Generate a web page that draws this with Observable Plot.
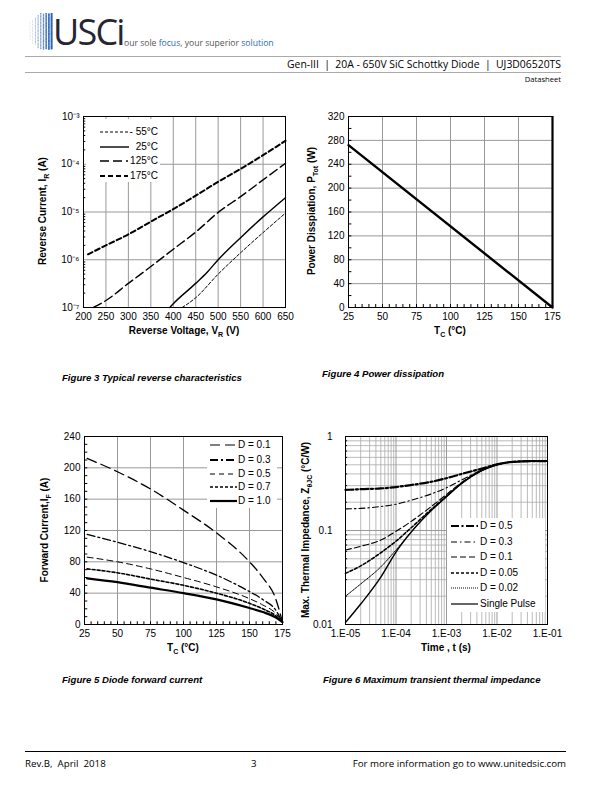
<!DOCTYPE html>
<html><head><meta charset="utf-8">
<script src="https://cdn.jsdelivr.net/npm/d3@7"></script>
<script src="https://cdn.jsdelivr.net/npm/@observablehq/plot@0.6"></script>
<style>
body{margin:0;background:#fff;}
#page{position:relative;width:612px;height:792px;overflow:hidden;font-family:"Liberation Sans",Arial,sans-serif;color:#000;}
.abs{position:absolute;white-space:nowrap;line-height:1;}
.c{transform:translate(-50%,-50%);}
.rot{transform:translate(-50%,-50%) rotate(-90deg);}
.ax{font-weight:bold;font-size:10px;}
.cap{font-weight:bold;font-style:italic;font-size:9.6px;}
.sub{font-size:7px;position:relative;top:2.5px;}
.leg{position:absolute;background:#fff;}
.legrow{position:absolute;font-size:10px;line-height:1;white-space:nowrap;}
.hdr{font-family:"Open Sans","Noto Sans",sans-serif;}
</style></head><body><div id="page"></div>
<script>
// ---------------- DATA ----------------
// Figure 3: reverse current vs reverse voltage
const revTicksV = [200,250,300,350,400,450,500,550,600,650];
const revTicksI = [1e-7,1e-6,1e-5,1e-4,1e-3];
const revV175 = [210,250,300,350,400,450,500,550,600,650];
const revI175 = [1.3e-6,2.0e-6,3.4e-6,6.3e-6,1.15e-5,2.2e-5,4.3e-5,8.0e-5,1.55e-4,3.1e-4];
const revV125 = [222,250,300,350,400,450,500,550,600,650];
const revI125 = [1e-7,1.4e-7,3.2e-7,7.2e-7,1.66e-6,3.8e-6,9.8e-6,2.1e-5,4.7e-5,1.05e-4];
const revV25 = [392,400,450,475,500,550,600,650];
const revI25 = [1e-7,1.2e-7,3.2e-7,5.4e-7,1.0e-6,2.9e-6,7.9e-6,2.0e-5];
const revVm55 = [420,450,500,550,600,650];
const revIm55 = [1e-7,1.6e-7,5.0e-7,1.4e-6,3.7e-6,9.5e-6];
const revLegend = ["- 55°C","25°C","125°C","175°C"];

// Figure 4: power dissipation
const powTicksT = [25,50,75,100,125,150,175];
const powTicksP = [0,40,80,120,160,200,240,280,320];
const powT = [25,175];
const powP = [272,0];

// Figure 5: diode forward current
const fwdTicksT = [25,50,75,100,125,150,175];
const fwdTicksI = [0,40,80,120,160,200,240];
const fwdT = [27,50,75,100,125,150,160,170,175];
const fwdD01 = [212,195,173,146,117,80,60,32,3];
const fwdD03 = [115,105,93,79,63,42,32,18,3];
const fwdD05 = [86,80,71,60,48,33,25,14,3];
const fwdD07 = [71,66,58,50,40,27,20,11,3];
const fwdD10 = [59,54,47,40,32,21,16,9,3];
const fwdLegend = ["D = 0.1","D = 0.3","D = 0.5","D = 0.7","D = 1.0"];

// Figure 6: transient thermal impedance
const zthTicksT = [1e-5,1e-4,1e-3,1e-2,1e-1];
const zthTicksZ = [0.01,0.1,1];
const zthT = [1e-5,2e-5,5e-5,1e-4,2e-4,5e-4,1e-3,2e-3,5e-3,1e-2,2e-2,5e-2,1e-1];
const zthSingle = [0.0105,0.0165,0.032,0.059,0.096,0.163,0.229,0.317,0.433,0.50,0.535,0.545,0.545];
const zthD002 = [0.02,0.027,0.041,0.062,0.097,0.164,0.23,0.318,0.434,0.5,0.536,0.545,0.545];
const zthD005 = [0.035,0.042,0.058,0.077,0.107,0.168,0.232,0.32,0.436,0.502,0.537,0.546,0.546];
const zthD01 = [0.062,0.068,0.079,0.098,0.125,0.18,0.242,0.325,0.44,0.505,0.538,0.547,0.547];
const zthD03 = [0.17,0.172,0.18,0.19,0.21,0.245,0.285,0.345,0.44,0.5,0.535,0.545,0.545];
const zthD05 = [0.27,0.275,0.28,0.29,0.305,0.33,0.36,0.40,0.455,0.505,0.538,0.547,0.547];
const zthLegend = ["D = 0.5","D = 0.3","D = 0.1","D = 0.05","D = 0.02","Single Pulse"];

// ---------------- HELPERS ----------------
const page = document.getElementById("page");
const pts = (xs, ys) => xs.map((x, i) => ({x, y: ys[i]}));
function txt(html, left, top, cls, style){
  const d = document.createElement("div");
  d.className = "abs " + (cls||"");
  d.innerHTML = html;
  if (left != null) d.style.left = left + "px";
  d.style.top = top + "px";
  if (style) d.style.cssText += style;
  page.appendChild(d); return d;
}
function put(svg, left, top){
  const w = document.createElement("div");
  w.style.position = "absolute"; w.style.left = left + "px"; w.style.top = top + "px";
  w.appendChild(svg); page.appendChild(w);
}
const baseStyle = {fontFamily:'"Liberation Sans", Arial, sans-serif', fontSize:"10px", background:"transparent", overflow:"visible", color:"#000"};
const logMinor = (lo, hi) => { const out=[]; for (let e=lo; e<hi; e++) for (let k=2;k<=9;k++) out.push(k*Math.pow(10,e)); return out; };
const sup = {"-":"⁻","0":"⁰","1":"¹","2":"²","3":"³","4":"⁴","5":"⁵","6":"⁶","7":"⁷","8":"⁸","9":"⁹"};
const pow10 = d => "10" + String(Math.round(Math.log10(d))).split("").map(c=>sup[c]).join("");

function legend(left, top, w, h, rows, items){
  const box = document.createElement("div");
  box.className = "leg";
  box.style.left = left+"px"; box.style.top = top+"px"; box.style.width = w+"px"; box.style.height = h+"px";
  page.appendChild(box);
  items.forEach((it, i) => {
    const r = rows[i];
    const s = document.createElementNS("http://www.w3.org/2000/svg","svg");
    s.setAttribute("width", it.x2 - it.x1 + 4); s.setAttribute("height", 8);
    s.style.position="absolute"; s.style.left=(it.x1-2)+"px"; s.style.top=(r-4)+"px"; s.style.overflow="visible";
    s.innerHTML = `<line x1="2" x2="${it.x2-it.x1+2}" y1="4" y2="4" stroke="#000" stroke-width="${it.w}" ${it.dash?`stroke-dasharray="${it.dash}"`:""}/>`;
    page.appendChild(s);
    const t = document.createElement("div");
    t.className = "legrow"; t.textContent = it.label;
    t.style.top = (r-5)+"px";
    if (it.right != null) { t.style.right = (612 - it.right)+"px"; } else { t.style.left = it.tx+"px"; }
    page.appendChild(t);
  });
}

// ---------------- HEADER ----------------
(function logo(){
  const s = document.createElementNS("http://www.w3.org/2000/svg","svg");
  s.setAttribute("width",30); s.setAttribute("height",40);
  s.style.position="absolute"; s.style.left="28px"; s.style.top="13px";
  let html="";
  const cols=9;
  for (let c=0;c<cols;c++){
    const frac=c/(cols-1);
    const half = 6 + Math.round(6*Math.min(frac*2,1));
    for (let r=-half;r<=half;r++){
      const y=18+r*1.45+(c%2?0.7:0);
      const rad=0.35+0.75*frac;
      const op=0.35+0.65*frac;
      html+=`<circle cx="${2+c*2.7}" cy="${y}" r="${rad}" fill="#2a63b0" fill-opacity="${op}"/>`;
    }
  }
  s.innerHTML=html; page.appendChild(s);
})();
txt("USCi", 53, 14, "hdr", "font-size:36px;color:#252535;letter-spacing:-1.8px;");
txt('our sole <span style="color:#2a6bb5">focus</span>, your superior <span style="color:#2a6bb5">solution</span>', 124, 39, "hdr", "font-size:8.6px;color:#555;");
txt("", 25, 56, "", "width:536px;height:0;border-top:1px solid #aaa;");
txt("Gen-III&nbsp; |&nbsp; 20A - 650V SiC Schottky Diode&nbsp; |&nbsp; UJ3D06520TS", null, 59, "hdr", "font-size:10.4px;right:51px;");
txt("", 25, 72, "", "width:536px;height:0;border-top:1px solid #aaa;");
txt("Datasheet", null, 76, "hdr", "font-size:7.6px;right:51px;");

// ---------------- FIGURE 3 ----------------
put(Plot.plot({
  width:270, height:235, marginLeft:53, marginRight:15, marginTop:16, marginBottom:28,
  style: baseStyle,
  x:{domain:[200,650], ticks:revTicksV, tickSize:0, tickPadding:5, label:null},
  y:{type:"log", domain:[1e-7,1e-3], ticks:revTicksI, tickFormat:pow10, tickSize:0, tickPadding:4, label:null},
  marks:[
    Plot.ruleX(revTicksV, {stroke:"#999"}),
    Plot.ruleY(revTicksI, {stroke:"#999"}),
    Plot.ruleY(logMinor(-7,-3), {x1:200, x2:205, stroke:"#000"}),
    Plot.line(pts(revVm55, revIm55), {x:"x", y:"y", stroke:"#000", strokeWidth:1, strokeDasharray:"3,2", curve:"monotone-x"}),
    Plot.line(pts(revV25, revI25), {x:"x", y:"y", stroke:"#000", strokeWidth:1.4, curve:"monotone-x"}),
    Plot.line(pts(revV125, revI125), {x:"x", y:"y", stroke:"#000", strokeWidth:1.4, strokeDasharray:"9,4", curve:"monotone-x"}),
    Plot.line(pts(revV175, revI175), {x:"x", y:"y", stroke:"#000", strokeWidth:2, strokeDasharray:"5,3", curve:"monotone-x"}),
    Plot.frame({stroke:"#000"})
  ]
}), 30, 100);
legend(86, 119, 74, 63, [132,147,161,176], [
  {label:revLegend[0], x1:100, x2:129, w:1, dash:"3,2", right:158},
  {label:revLegend[1], x1:100, x2:129, w:1.4, right:158},
  {label:revLegend[2], x1:100, x2:128, w:1.4, dash:"9,4", right:158},
  {label:revLegend[3], x1:100, x2:128, w:2, dash:"5,3", right:158}
]);
txt('Reverse Voltage, V<span class="sub">R</span> (V)', 184, 331, "ax c");
txt('Reverse Current, I<span class="sub">R</span> (A)', 43, 211, "ax rot");
txt("Figure 3 Typical reverse characteristics", 62, 373, "cap");

// ---------------- FIGURE 4 ----------------
put(Plot.plot({
  width:270, height:235, marginLeft:48, marginRight:18, marginTop:16, marginBottom:28,
  style: baseStyle,
  x:{domain:[25,175], ticks:powTicksT, tickSize:0, tickPadding:5, label:null},
  y:{domain:[0,320], ticks:powTicksP, tickSize:0, tickPadding:4, label:null},
  marks:[
    Plot.ruleX(powTicksT, {stroke:"#999"}),
    Plot.ruleY(powTicksP, {stroke:"#999"}),
    Plot.ruleY(d3.range(20,320,20), {x1:25, x2:27.5, stroke:"#000"}),
    Plot.ruleX(d3.range(30,175,5), {y1:0, y2:5, stroke:"#000"}),
    Plot.line(pts(powT, powP), {x:"x", y:"y", stroke:"#000", strokeWidth:2.4}),
    Plot.frame({stroke:"#000"}),
    Plot.ruleX([175], {stroke:"#000", strokeWidth:2.2})
  ]
}), 300, 100);
txt('T<span class="sub">C</span> (°C)', 450, 331, "ax c");
txt('Power Disspiation, P<span class="sub">Tot</span> (W)', 312, 211, "ax rot");
txt("Figure 4 Power dissipation", 322, 369, "cap");

// ---------------- FIGURE 5 ----------------
put(Plot.plot({
  width:270, height:230, marginLeft:54, marginRight:18, marginTop:16, marginBottom:26,
  style: baseStyle,
  x:{domain:[25,175], ticks:fwdTicksT, tickSize:0, tickPadding:5, label:null},
  y:{domain:[0,240], ticks:fwdTicksI, tickSize:0, tickPadding:4, label:null},
  marks:[
    Plot.ruleX(fwdTicksT, {stroke:"#999"}),
    Plot.ruleY(fwdTicksI, {stroke:"#999"}),
    Plot.ruleY(d3.range(10,240,10), {x1:25, x2:27.5, stroke:"#000"}),
    Plot.ruleX(d3.range(30,175,5), {y1:0, y2:3.5, stroke:"#000"}),
    Plot.line(pts(fwdT, fwdD10), {x:"x", y:"y", stroke:"#000", strokeWidth:2.2, curve:"monotone-x"}),
    Plot.line(pts(fwdT, fwdD07), {x:"x", y:"y", stroke:"#000", strokeWidth:1.6, strokeDasharray:"3,2", curve:"monotone-x"}),
    Plot.line(pts(fwdT, fwdD05), {x:"x", y:"y", stroke:"#000", strokeWidth:1, strokeDasharray:"6,4", curve:"monotone-x"}),
    Plot.line(pts(fwdT, fwdD03), {x:"x", y:"y", stroke:"#000", strokeWidth:1.3, strokeDasharray:"8,3,2,3", curve:"monotone-x"}),
    Plot.line(pts(fwdT, fwdD01), {x:"x", y:"y", stroke:"#000", strokeWidth:1.3, strokeDasharray:"10,5", curve:"monotone-x"}),
    Plot.frame({stroke:"#000"})
  ]
}), 30, 420);
legend(207, 437, 70, 71, [445,459.5,473.5,487,500.5], [
  {label:fwdLegend[0], x1:210, x2:237, w:1.2, dash:"10,5", tx:238},
  {label:fwdLegend[1], x1:210, x2:237, w:2, dash:"8,3,2,3", tx:238},
  {label:fwdLegend[2], x1:210, x2:237, w:1, dash:"5,4", tx:238},
  {label:fwdLegend[3], x1:210, x2:237, w:1.6, dash:"3,2", tx:238},
  {label:fwdLegend[4], x1:210, x2:237, w:2.2, tx:238}
]);
txt('T<span class="sub">C</span> (°C)', 183, 648, "ax c");
txt('Forward Current,I<span class="sub">F</span> (A)', 45, 530, "ax rot");
txt("Figure 5 Diode forward current", 62, 675, "cap");

// ---------------- FIGURE 6 ----------------
put(Plot.plot({
  width:270, height:230, marginLeft:45, marginRight:23, marginTop:16, marginBottom:26,
  style: baseStyle,
  x:{type:"log", domain:[1e-5,1e-1], ticks:zthTicksT, tickFormat:d=>"1.E-0"+Math.round(-Math.log10(d)), tickSize:0, tickPadding:5, label:null},
  y:{type:"log", domain:[0.01,1], ticks:zthTicksZ, tickFormat:d=>String(d), tickSize:0, tickPadding:13, label:null},
  marks:[
    Plot.ruleX(logMinor(-5,-1), {stroke:"#aaa", strokeWidth:0.8}),
    Plot.ruleY(logMinor(-2,0), {stroke:"#aaa", strokeWidth:0.8}),
    Plot.ruleX(zthTicksT, {stroke:"#999"}),
    Plot.ruleY(zthTicksZ, {stroke:"#999"}),
    Plot.ruleY(logMinor(-2,0), {x1:1e-5, x2:1.1e-5, stroke:"#000"}),
    Plot.line(pts(zthT, zthSingle), {x:"x", y:"y", stroke:"#000", strokeWidth:1.4, curve:"monotone-x"}),
    Plot.line(pts(zthT, zthD002), {x:"x", y:"y", stroke:"#000", strokeWidth:1, strokeDasharray:"1,1", curve:"monotone-x"}),
    Plot.line(pts(zthT, zthD005), {x:"x", y:"y", stroke:"#000", strokeWidth:1.6, strokeDasharray:"3,2", curve:"monotone-x"}),
    Plot.line(pts(zthT, zthD01), {x:"x", y:"y", stroke:"#000", strokeWidth:1.1, strokeDasharray:"6,3", curve:"monotone-x"}),
    Plot.line(pts(zthT, zthD03), {x:"x", y:"y", stroke:"#000", strokeWidth:1.1, strokeDasharray:"6,3,1.5,3", curve:"monotone-x"}),
    Plot.line(pts(zthT, zthD05), {x:"x", y:"y", stroke:"#000", strokeWidth:2.2, strokeDasharray:"8,2.5,2,2.5", curve:"monotone-x"}),
    Plot.frame({stroke:"#000"})
  ]
}), 300, 420);
legend(447, 518, 98, 94, [526,541.5,557,572.5,588,603.5], [
  {label:zthLegend[0], x1:451, x2:478, w:2.2, dash:"8,2.5,2,2.5", tx:480},
  {label:zthLegend[1], x1:451, x2:478, w:1, dash:"6,3,1.5,3", tx:480},
  {label:zthLegend[2], x1:451, x2:478, w:1, dash:"6,3", tx:480},
  {label:zthLegend[3], x1:451, x2:478, w:1.6, dash:"3,2", tx:480},
  {label:zthLegend[4], x1:451, x2:478, w:1, dash:"1,1", tx:480},
  {label:zthLegend[5], x1:451, x2:478, w:1.2, tx:480}
]);
txt('Time , t (s)', 446, 648, "ax c");
txt('Max. Thermal Impedance, Z<span class="sub">θJC</span> (°C/W)', 306, 530, "ax rot");
txt("Figure 6 Maximum transient thermal impedance", 323, 675, "cap");

// ---------------- FOOTER ----------------
txt("", 25, 751, "", "width:541px;height:0;border-top:1.5px solid #000;");
txt("Rev.B,&nbsp; April&nbsp; 2018", 25, 759, "hdr", "font-size:9.7px;");
txt("3", 251, 759, "hdr", "font-size:9.7px;");
txt("For more information go to www.unitedsic.com", null, 759, "hdr", "font-size:9.7px;right:46px;");
</script></body></html>
